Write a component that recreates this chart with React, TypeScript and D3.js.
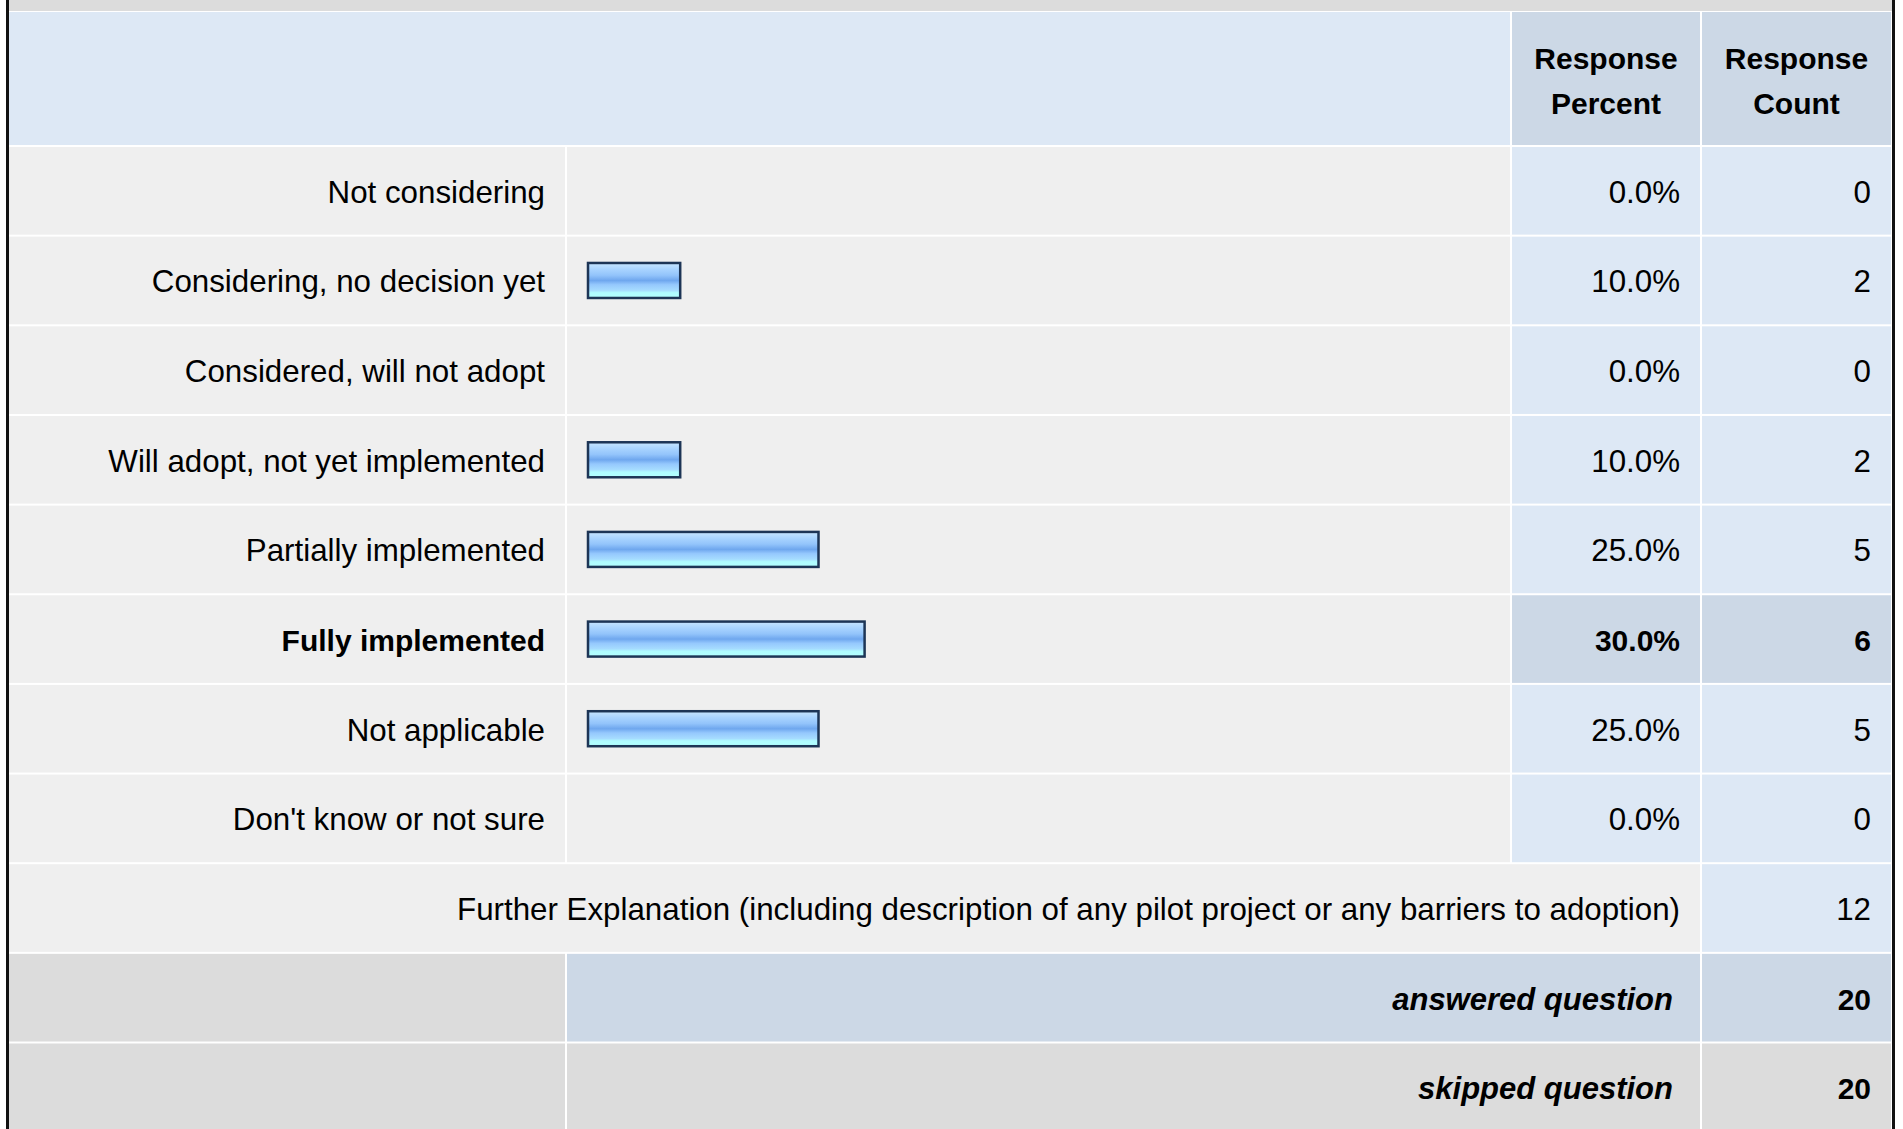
import * as d3 from 'd3';

// Survey answer table: one row per option, with an inline bar for the percent.
const CATEGORIES = [
  'Not considering',
  'Considering, no decision yet',
  'Considered, will not adopt',
  'Will adopt, not yet implemented',
  'Partially implemented',
  'Fully implemented',
  'Not applicable',
  "Don't know or not sure",
];
const PERCENTS = [0, 10, 0, 10, 25, 30, 25, 0];
const COUNTS = [0, 2, 0, 2, 5, 6, 5, 0];
const HIGHLIGHTED = 'Fully implemented';

const HEADER_LINES_PERCENT = ['Response', 'Percent'];
const HEADER_LINES_COUNT = ['Response', 'Count'];

const FURTHER_LABEL =
  'Further Explanation (including description of any pilot project or any barriers to adoption)';
const FURTHER_COUNT = 12;
const ANSWERED_LABEL = 'answered question';
const ANSWERED_COUNT = 20;
const SKIPPED_LABEL = 'skipped question';
const SKIPPED_COUNT = 20;

const WIDTH = 1903;
const HEIGHT = 1129;
const FONT = '"Liberation Sans", Arial, Helvetica, sans-serif';
const FS_REGULAR = 31.3;
const FS_BOLD = 30;
const FS_BOLD_ITALIC = 31;

const C_LABEL = '#efefef';
const C_LIGHT = '#dde8f5';
const C_DARK = '#ccd8e6';
const C_GRAY = '#dcdcdc';
const C_TEXT = '#000000';

// column edges: label | bar | percent | count
const COL_EDGES = [9, 566, 1511, 1701, 1892];
const PAD_RIGHT = 21;

export default function App() {
  const rowKeys = [...CATEGORIES, 'further', 'answered', 'skipped'];
  const y = d3
    .scaleBand<string>()
    .domain(rowKeys)
    .range([146, 146 + rowKeys.length * 89.65])
    .paddingInner(2 / 89.65)
    .paddingOuter(0.5 * (2 / 89.65));

  const x = d3.scaleLinear().domain([0, 100]).range([588, 1510]);

  const cell = (c0: number, c1: number) => ({
    x: COL_EDGES[c0] + (c0 === 0 ? 0 : 1),
    w: COL_EDGES[c1] - COL_EDGES[c0] - (c0 === 0 ? 1 : 2),
  });

  const bh = y.bandwidth();
  const barH = 35;

  const textEnd = (c1: number) => COL_EDGES[c1] - PAD_RIGHT;
  const base = (key: string) => (y(key) ?? 0) + bh / 2 + 12;

  const label = cell(0, 1);
  const bar = cell(1, 2);
  const pct = cell(2, 3);
  const cnt = cell(3, 4);
  const labelBar = cell(0, 2);
  const labelPct = cell(0, 3);
  const barPct = cell(1, 3);

  return (
    <div style={{ position: 'fixed', left: 0, top: 0 }}>
      <svg width={WIDTH} height={HEIGHT} style={{ display: 'block', background: '#ffffff' }}>
        <defs>
          <linearGradient id="barGrad" x1="0" y1="0" x2="0" y2="1">
            <stop offset="0%" stopColor="#c8e6ff" />
            <stop offset="18%" stopColor="#a9d4ff" />
            <stop offset="35%" stopColor="#93c4fb" />
            <stop offset="50%" stopColor="#6fa7ee" />
            <stop offset="62%" stopColor="#95c8fd" />
            <stop offset="78%" stopColor="#a6dcff" />
            <stop offset="85%" stopColor="#b0fcff" />
            <stop offset="100%" stopColor="#b2ffff" />
          </linearGradient>
        </defs>

        {/* previous row sliver at the very top */}
        <rect x={9} y={0} width={COL_EDGES[4] - 9} height={11} fill={C_GRAY} />

        {/* header */}
        <rect x={labelBar.x} y={12} width={labelBar.w} height={133} fill={C_LIGHT} />
        <rect x={pct.x} y={12} width={pct.w} height={133} fill={C_DARK} />
        <rect x={cnt.x} y={12} width={cnt.w} height={133} fill={C_DARK} />
        {[
          { c: pct, lines: HEADER_LINES_PERCENT },
          { c: cnt, lines: HEADER_LINES_COUNT },
        ].map(({ c, lines }, j) =>
          lines.map((t, i) => (
            <text
              key={`h${j}-${i}`}
              x={c.x + c.w / 2}
              y={69 + i * 45}
              textAnchor="middle"
              fontFamily={FONT}
              fontSize={FS_BOLD}
              fontWeight="bold"
              fill={C_TEXT}
            >
              {t}
            </text>
          )),
        )}

        {/* answer rows */}
        {CATEGORIES.map((name, i) => {
          const top = y(name) ?? 0;
          const hi = name === HIGHLIGHTED;
          const weight = hi ? 'bold' : 'normal';
          const fs = hi ? FS_BOLD : FS_REGULAR;
          return (
            <g key={name}>
              <rect x={label.x} y={top} width={label.w} height={bh} fill={C_LABEL} />
              <rect x={bar.x} y={top} width={bar.w} height={bh} fill={C_LABEL} />
              <rect x={pct.x} y={top} width={pct.w} height={bh} fill={hi ? C_DARK : C_LIGHT} />
              <rect x={cnt.x} y={top} width={cnt.w} height={bh} fill={hi ? C_DARK : C_LIGHT} />
              {PERCENTS[i] > 0 && (
                <rect
                  x={x(0)}
                  y={top + bh / 2 - barH / 2}
                  width={x(PERCENTS[i]) - x(0)}
                  height={barH}
                  fill="url(#barGrad)"
                  stroke="#1d3556"
                  strokeWidth={2.5}
                />
              )}
              <text
                x={textEnd(1)}
                y={base(name)}
                textAnchor="end"
                fontFamily={FONT}
                fontSize={fs}
                fontWeight={weight}
                fill={C_TEXT}
              >
                {name}
              </text>
              <text
                x={textEnd(3)}
                y={base(name)}
                textAnchor="end"
                fontFamily={FONT}
                fontSize={fs}
                fontWeight={weight}
                fill={C_TEXT}
              >
                {`${PERCENTS[i].toFixed(1)}%`}
              </text>
              <text
                x={textEnd(4)}
                y={base(name)}
                textAnchor="end"
                fontFamily={FONT}
                fontSize={fs}
                fontWeight={weight}
                fill={C_TEXT}
              >
                {COUNTS[i]}
              </text>
            </g>
          );
        })}

        {/* further explanation */}
        <g>
          <rect x={labelPct.x} y={y('further')} width={labelPct.w} height={bh} fill={C_LABEL} />
          <rect x={cnt.x} y={y('further')} width={cnt.w} height={bh} fill={C_LIGHT} />
          <text x={textEnd(3)} y={base('further')} textAnchor="end" fontFamily={FONT} fontSize={FS_REGULAR} fill={C_TEXT}>
            {FURTHER_LABEL}
          </text>
          <text x={textEnd(4)} y={base('further')} textAnchor="end" fontFamily={FONT} fontSize={FS_REGULAR} fill={C_TEXT}>
            {FURTHER_COUNT}
          </text>
        </g>

        {/* answered / skipped */}
        {[
          { key: 'answered', text: ANSWERED_LABEL, n: ANSWERED_COUNT, mid: C_DARK },
          { key: 'skipped', text: SKIPPED_LABEL, n: SKIPPED_COUNT, mid: C_GRAY },
        ].map((r) => (
          <g key={r.key}>
            <rect x={label.x} y={y(r.key)} width={label.w} height={bh} fill={C_GRAY} />
            <rect x={barPct.x} y={y(r.key)} width={barPct.w} height={bh} fill={r.mid} />
            <rect x={cnt.x} y={y(r.key)} width={cnt.w} height={bh} fill={r.mid} />
            <text
              x={textEnd(3) - 7}
              y={base(r.key)}
              textAnchor="end"
              fontFamily={FONT}
              fontSize={FS_BOLD_ITALIC}
              fontWeight="bold"
              fontStyle="italic"
              fill={C_TEXT}
            >
              {r.text}
            </text>
            <text
              x={textEnd(4)}
              y={base(r.key)}
              textAnchor="end"
              fontFamily={FONT}
              fontSize={FS_BOLD}
              fontWeight="bold"
              fill={C_TEXT}
            >
              {r.n}
            </text>
          </g>
        ))}

        {/* outer table border */}
        <rect x={6} y={0} width={3} height={HEIGHT} fill="#111111" />
        <rect x={COL_EDGES[4]} y={0} width={3} height={HEIGHT} fill="#111111" />
      </svg>
    </div>
  );
}
